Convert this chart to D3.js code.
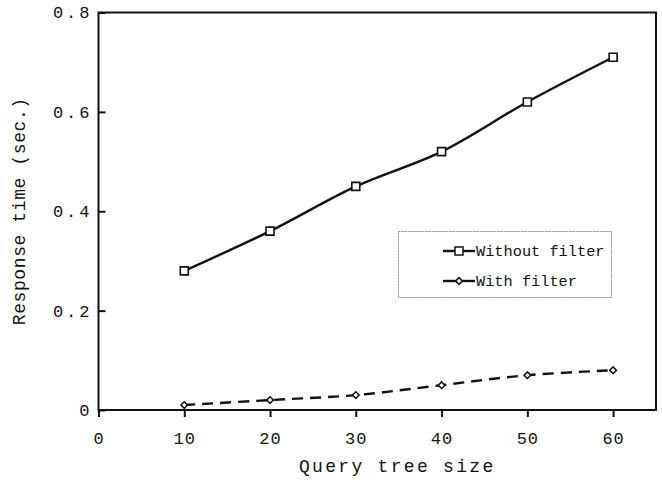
<!DOCTYPE html>
<html>
<head>
<meta charset="utf-8">
<script src="https://cdn.jsdelivr.net/npm/d3@7"></script>
<style>
  html, body { margin: 0; padding: 0; background: #fff; }
  svg { display: block; }
  text { font-family: "Liberation Mono", "Courier New", monospace; fill: #111; }
</style>
</head>
<body>
<svg id="chart" width="662" height="484"></svg>
<script>
// Query tree sizes on the x axis
const treeSizes = [10, 20, 30, 40, 50, 60];
// Response time (sec.) per series
const withoutFilter = [0.28, 0.36, 0.45, 0.52, 0.62, 0.71];
const withFilter = [0.01, 0.02, 0.03, 0.05, 0.07, 0.08];
// Axis tick labels
const xTicks = [0, 10, 20, 30, 40, 50, 60];
const yTicks = [0, 0.2, 0.4, 0.6, 0.8];
const seriesNames = ["Without filter", "With filter"];

const svg = d3.select("#chart");
const margin = { left: 98.5, top: 12.5, right: 6, bottom: 74 };
const W = 662, H = 484;
const x = d3.scaleLinear().domain([0, 65]).range([margin.left, W - margin.right]);
const y = d3.scaleLinear().domain([0, 0.8]).range([H - margin.bottom, margin.top]);

// Plot frame
svg.append("rect")
  .attr("x", x(0)).attr("y", y(0.8))
  .attr("width", x(65) - x(0)).attr("height", y(0) - y(0.8))
  .attr("fill", "none").attr("stroke", "#111").attr("stroke-width", 2);

// X axis: ticks below the frame
const xAxis = svg.append("g").attr("transform", `translate(0,${y(0)})`)
  .call(d3.axisBottom(x).tickValues(xTicks).tickSize(7).tickPadding(15).tickFormat(d3.format("d")));
xAxis.select(".domain").remove();
xAxis.selectAll(".tick line").attr("stroke", "#111").attr("stroke-width", 2);
xAxis.selectAll(".tick text").style("font-size", "17px").attr("fill", "#111")
  .style("font-family", '"Liberation Mono", monospace').style("letter-spacing", "1px");

// Y axis: ticks inside the frame
const yAxis = svg.append("g").attr("transform", `translate(${x(0)},0)`)
  .call(d3.axisLeft(y).tickValues(yTicks).tickSize(0).tickPadding(6)
    .tickFormat(d => d === 0 ? "0" : d3.format(".1f")(d)));
yAxis.select(".domain").remove();
yAxis.selectAll(".tick text").style("font-size", "17px").attr("fill", "#111")
  .style("font-family", '"Liberation Mono", monospace').style("letter-spacing", "3px");
yAxis.selectAll(".tick").append("line")
  .attr("x1", 0).attr("x2", 7).attr("stroke", "#111").attr("stroke-width", 2);

// Axis titles
svg.append("text")
  .attr("x", (x(0) + x(65)) / 2 + 20).attr("y", 472)
  .attr("text-anchor", "middle")
  .style("font-size", "18px").style("letter-spacing", "2.3px")
  .text("Query tree size");
svg.append("text")
  .attr("transform", `translate(25,${y(0.4)}) rotate(-90)`)
  .attr("text-anchor", "middle")
  .style("font-size", "18px").style("letter-spacing", "0.6px")
  .text("Response time (sec.)");

const line = d3.line()
  .x((d, i) => x(treeSizes[i]))
  .y(d => y(d))
  .curve(d3.curveCatmullRom.alpha(0.5));

svg.append("path").datum(withoutFilter)
  .attr("d", line).attr("fill", "none").attr("stroke", "#111").attr("stroke-width", 2.4);
svg.append("path").datum(withFilter)
  .attr("d", line).attr("fill", "none").attr("stroke", "#111").attr("stroke-width", 2.4)
  .attr("stroke-dasharray", "11,7");

const square = d3.symbol().type(d3.symbolSquare).size(64);
// Diamond drawn as a square turned 45 degrees
const diamond = d3.symbol().type(d3.symbolSquare).size(22);

svg.append("g").selectAll("path").data(withoutFilter).join("path")
  .attr("transform", (d, i) => `translate(${x(treeSizes[i])},${y(d)})`)
  .attr("d", square).attr("fill", "#fff").attr("stroke", "#111").attr("stroke-width", 1.6);
svg.append("g").selectAll("path").data(withFilter).join("path")
  .attr("transform", (d, i) => `translate(${x(treeSizes[i])},${y(d)}) rotate(45)`)
  .attr("d", diamond).attr("fill", "#fff").attr("stroke", "#111").attr("stroke-width", 1.5);

// Legend
const lg = svg.append("g");
lg.append("rect").attr("x", 398.5).attr("y", 231.5).attr("width", 213).attr("height", 66)
  .attr("fill", "#fff").attr("stroke", "#888").attr("stroke-width", 1)
  .attr("stroke-dasharray", "2,1");
const legendRows = [
  { name: seriesNames[0], sym: square, rot: 0, y: 251 },
  { name: seriesNames[1], sym: diamond, rot: 45, y: 281 }
];
legendRows.forEach(r => {
  lg.append("line").attr("x1", 443).attr("x2", 475).attr("y1", r.y).attr("y2", r.y)
    .attr("stroke", "#111").attr("stroke-width", 2.4);
  lg.append("path").attr("transform", `translate(459,${r.y}) rotate(${r.rot})`).attr("d", r.sym)
    .attr("fill", "#fff").attr("stroke", "#111").attr("stroke-width", 1.5);
  lg.append("text").attr("x", 476).attr("y", r.y + 5)
    .style("font-size", "15.3px").text(r.name);
});
</script>
</body>
</html>
